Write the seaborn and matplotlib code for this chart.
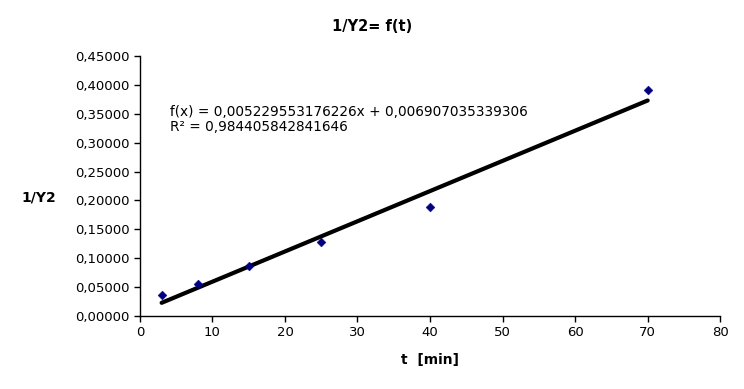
import numpy as np
import pandas as pd
import seaborn as sns
import matplotlib
matplotlib.use("Agg")
import matplotlib.pyplot as plt

# measured points
t_min = [3, 8, 15, 25, 40, 70]
inv_y2 = [0.0360, 0.0552, 0.0862, 0.1275, 0.1890, 0.3910]

# linear trend shown on the chart
slope = 0.005229553176226
intercept = 0.006907035339306
r2 = 0.984405842841646

df = pd.DataFrame({"t": t_min, "inv": inv_y2})
trend = pd.DataFrame({"t": [min(t_min), max(t_min)]})
trend["inv"] = slope * trend["t"] + intercept

sns.set_style("white")
plt.rcParams["font.family"] = ["DejaVu Sans"]
plt.rcParams["text.color"] = "black"
plt.rcParams["axes.labelcolor"] = "black"

fig = plt.figure(figsize=(7.44, 3.89), dpi=100)
ax = fig.add_axes([0.188, 0.188, 0.780, 0.668])

sns.lineplot(data=trend, x="t", y="inv", color="black", linewidth=3, ax=ax)
sns.scatterplot(data=df, x="t", y="inv", marker="D", s=20, color="#000080",
                edgecolor="#000080", ax=ax, zorder=3)

ax.set_xlim(0, 80)
ax.set_ylim(0, 0.45)
ax.set_xticks(range(0, 81, 10))
yt = np.arange(0, 0.4501, 0.05)
ax.set_yticks(yt)
ax.set_yticklabels([f"{v:.5f}".replace(".", ",") for v in yt])
ax.tick_params(axis="both", direction="out", length=4, width=1, labelsize=9.5,
               left=True, bottom=True, colors="black")
for s in ["top", "right"]:
    ax.spines[s].set_visible(False)
for s in ["left", "bottom"]:
    ax.spines[s].set_color("black")
    ax.spines[s].set_linewidth(1)

ax.set_xlabel("t  [min]", fontsize=10, fontweight="bold", labelpad=10)
ax.set_ylabel("1/Y2", fontsize=10, fontweight="bold", rotation=0, labelpad=0)
ax.yaxis.set_label_coords(-0.175, 0.43)
fig.suptitle("1/Y2= f(t)", fontsize=10.5, fontweight="bold", x=0.5, y=0.95)

ax.text(4.1, 0.353,
        "f(x) = " + f"{slope:.15f}".replace(".", ",") + "x + " + f"{intercept:.15f}".replace(".", ","),
        fontsize=9.8, va="center")
ax.text(4.1, 0.3265, "R² = " + f"{r2:.15f}".replace(".", ","), fontsize=9.8, va="center")

fig.savefig("out.png", dpi=100)
